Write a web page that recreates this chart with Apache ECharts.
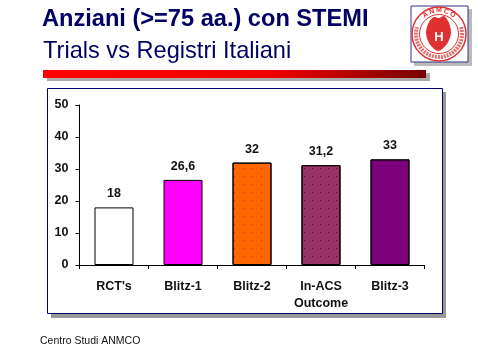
<!DOCTYPE html>
<html>
<head>
<meta charset="utf-8">
<style>
html,body{margin:0;padding:0;background:#fff}
#main{width:478px;height:359px}
</style>
<script src="https://cdn.jsdelivr.net/npm/echarts@6/dist/echarts.min.js"></script>
</head>
<body>
<div id="main"></div>
<script>
var categories = ["RCT's", 'Blitz-1', 'Blitz-2', 'In-ACS\nOutcome', 'Blitz-3'];
var values = [18, 26.6, 32, 31.2, 33];
var valueLabels = ['18', '26,6', '32', '31,2', '33'];
var barColors = ['#ffffff', '#ff00ff', '#ff6600', '#993366', '#800080'];
var logoLetters = ['A', 'N', 'M', 'C', 'O'];

var navy = '#000066';
var logoRed = '#e03030';

// dotted fill on some bars, like the old powerpoint patterns
var barDecals = [
    null,
    null,
    {symbol: 'rect', symbolSize: 1, color: '#c8321e', dashArrayX: [1, 8], dashArrayY: [1, 7], rotation: 0, maxTileWidth: 64, maxTileHeight: 64},
    {symbol: 'rect', symbolSize: 1, color: '#3c1030', dashArrayX: [1, 7], dashArrayY: [1, 7], rotation: 0, maxTileWidth: 64, maxTileHeight: 64},
    {symbol: 'rect', symbolSize: 1, color: 'rgba(60,0,60,0.3)', dashArrayX: [1, 1], dashArrayY: [1, 1], rotation: 0, maxTileWidth: 64, maxTileHeight: 64}
];

var seriesData = [];
for (var i = 0; i < values.length; i++) {
    var style = {color: barColors[i], borderColor: '#000', borderWidth: 1};
    if (barDecals[i]) {
        style.decal = barDecals[i];
    }
    seriesData.push({value: values[i], itemStyle: style});
}

// letters round the top of the logo ring
var logoCx = 439, logoCy = 34;
var logoParts = [];
for (var k = 0; k < logoLetters.length; k++) {
    var ang = (k - 2) * 0.31;
    logoParts.push({
        type: 'text',
        z: 12,
        x: logoCx + Math.sin(ang) * 23.5,
        y: logoCy - Math.cos(ang) * 23.5,
        rotation: -ang,
        style: {text: logoLetters[k], fill: logoRed, font: 'bold 7px "Liberation Sans"', align: 'center', verticalAlign: 'middle'}
    });
}

var myChart = echarts.init(document.getElementById('main'), null, {renderer: 'canvas'});
myChart.setOption({
    animation: false,
    backgroundColor: '#fff',
    grid: {left: 79.5, top: 105, width: 345, height: 160, containLabel: false},
    xAxis: {
        type: 'category',
        data: categories,
        axisLine: {lineStyle: {color: '#000', width: 1}},
        axisTick: {show: true, length: 4, alignWithLabel: false, lineStyle: {color: '#000'}},
        axisLabel: {
            color: '#111',
            fontFamily: 'Liberation Sans',
            fontWeight: 'bold',
            fontSize: 12.5,
            lineHeight: 17,
            margin: 13,
            interval: 0
        }
    },
    yAxis: {
        type: 'value',
        min: 0,
        max: 50,
        interval: 10,
        splitLine: {show: false},
        axisLine: {show: true, lineStyle: {color: '#000', width: 1}},
        axisTick: {show: true, length: 4, lineStyle: {color: '#000'}},
        axisLabel: {color: '#111', fontFamily: 'Liberation Sans', fontWeight: 'bold', fontSize: 12.5, margin: 11}
    },
    series: [{
        type: 'bar',
        z: 5,
        barWidth: 39,
        data: seriesData,
        label: {
            show: true,
            position: 'top',
            distance: 7,
            color: '#111',
            fontFamily: 'Liberation Sans',
            fontWeight: 'bold',
            fontSize: 12.5,
            formatter: function (p) {
                return valueLabels[p.dataIndex];
            }
        }
    }],
    graphic: {
        elements: [
            // chart frame and its shadow
            {type: 'rect', z: -2, silent: true, shape: {x: 51, y: 92, width: 395, height: 226}, style: {fill: '#999999'}},
            {type: 'rect', z: -1, silent: true, shape: {x: 47.5, y: 88.5, width: 395, height: 225}, style: {fill: '#fff', stroke: navy, lineWidth: 1}},
            // titles
            {type: 'text', x: 42, y: 7, style: {text: 'Anziani (>=75 aa.) con STEMI', fill: navy, font: 'bold 23.6px "Liberation Sans"'}},
            {type: 'text', x: 43, y: 39, style: {text: 'Trials vs Registri Italiani', fill: navy, font: '23.6px "Liberation Sans"'}},
            // red rule
            {type: 'rect', silent: true, shape: {x: 47, y: 73, width: 383, height: 8}, style: {fill: '#aaaaaa'}},
            {
                type: 'rect', silent: true, z: 3, shape: {x: 43, y: 70, width: 383, height: 8},
                style: {
                    fill: new echarts.graphic.LinearGradient(0, 0, 1, 0, [
                        {offset: 0, color: '#ff0000'},
                        {offset: 0.6, color: '#ee0000'},
                        {offset: 1, color: '#770000'}
                    ])
                }
            },
            // logo
            {type: 'rect', z: 10, silent: true, shape: {x: 414, y: 9, width: 58, height: 57}, style: {fill: '#bbbbbb'}},
            {type: 'rect', z: 11, silent: true, shape: {x: 411, y: 6, width: 57, height: 56}, style: {fill: '#fff', stroke: '#333388', lineWidth: 1}},
            {type: 'circle', z: 12, silent: true, shape: {cx: logoCx, cy: logoCy, r: 27}, style: {fill: 'none', stroke: logoRed, lineWidth: 1.5}},
            {type: 'circle', z: 12, silent: true, shape: {cx: logoCx, cy: logoCy, r: 19.5}, style: {fill: 'none', stroke: logoRed, lineWidth: 1}},
            {type: 'arc', z: 12, silent: true, shape: {cx: logoCx, cy: logoCy, r: 23, startAngle: -0.3, endAngle: 3.44, clockwise: true}, style: {fill: 'none', stroke: '#e07070', lineWidth: 4, lineDash: [2, 1]}},
            {
                type: 'polygon', z: 13, silent: true,
                shape: {points: [[438, 51], [429, 43], [426, 32], [429, 22], [434, 17], [439, 18], [444, 16], [449, 23], [451, 33], [447, 44]], smooth: 0.3},
                style: {fill: logoRed}
            },
            {type: 'text', z: 14, x: 439, y: 37, style: {text: 'H', fill: '#fff', font: 'bold 13px "Liberation Sans"', align: 'center', verticalAlign: 'middle'}}
        ].concat(logoParts).concat([
            // footer
            {type: 'text', x: 40, y: 336, style: {text: 'Centro Studi ANMCO', fill: '#111', font: '10.5px "Liberation Sans"'}}
        ])
    }
});
</script>
</body>
</html>
